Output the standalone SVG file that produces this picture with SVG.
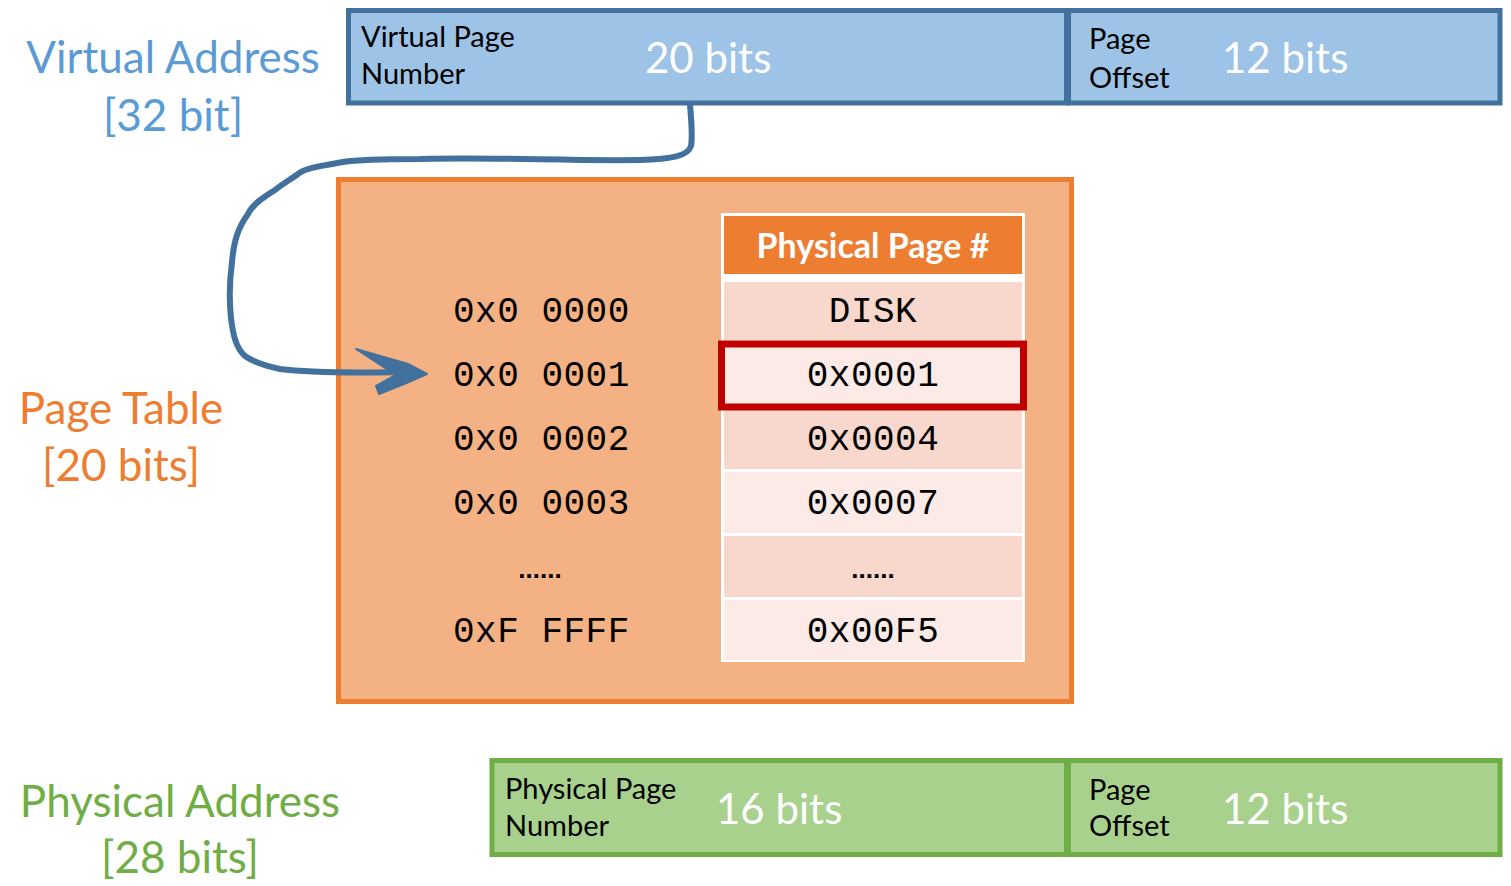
<svg xmlns="http://www.w3.org/2000/svg" width="1511" height="886" viewBox="0 0 1511 886">
<style>
.lbl{font-family:Lato,"Open Sans",sans-serif;font-size:29px;fill:#000}
.big{font-family:Lato,"Open Sans",sans-serif;font-size:42px;fill:#fff}
.side{font-family:Lato,"Open Sans",sans-serif;font-size:44px;text-anchor:middle}
.mono{font-family:"Liberation Mono","Courier New",monospace;font-size:36px;fill:#000;letter-spacing:0.5px}
.dots{font-family:"Liberation Sans",Arial,sans-serif;font-size:26px;font-weight:bold;fill:#000;text-anchor:middle}
.blue{fill:#9DC3E6;stroke:#41719C;stroke-width:5}
.green{fill:#A9D18E;stroke:#70AD47;stroke-width:5}
.dark{fill:#F8D7CC}
.light{fill:#FBEAE5}
</style>
<rect width="1511" height="886" fill="#fff"/>
<g id="virtual-address-label">
<text class="side" x="173" y="73" fill="#5B9BD5">Virtual Address</text>
<text class="side" x="173" y="131" fill="#5B9BD5">[32 bit]</text>
</g>
<g id="vpn">
<rect class="blue" x="348.5" y="10.5" width="718" height="92.5"/>
<text class="lbl" x="361" y="47">Virtual Page</text>
<text class="lbl" x="361" y="84">Number</text>
<text class="big" x="645" y="73">20 bits</text>
</g>
<g id="vpo">
<rect class="blue" x="1068.5" y="10.5" width="431.5" height="92.5"/>
<text class="lbl" x="1089" y="49">Page</text>
<text class="lbl" x="1089" y="88">Offset</text>
<text class="big" x="1222" y="73">12 bits</text>
</g>
<g id="page-table-label">
<text class="side" x="121" y="424" fill="#ED7D31">Page Table</text>
<text class="side" x="121" y="481" fill="#ED7D31">[20 bits]</text>
</g>
<g id="page-table">
<rect x="338.5" y="179.5" width="733" height="522" fill="#F4B183" stroke="#ED7D31" stroke-width="5"/>
<rect x="721" y="213" width="304" height="449" fill="#fff"/>
<rect x="724" y="216" width="298" height="58" fill="#ED7D31"/>
<rect class="dark" x="724" y="282" width="298" height="58"/>
<rect class="light" x="724" y="343" width="298" height="62"/>
<rect class="dark" x="724" y="408" width="298" height="61"/>
<rect class="light" x="724" y="472" width="298" height="61"/>
<rect class="dark" x="724" y="536" width="298" height="61"/>
<rect class="light" x="724" y="600" width="298" height="60"/>
<text x="873" y="258" text-anchor="middle" font-family="Lato,'Open Sans',sans-serif" font-weight="bold" font-size="34" fill="#fff">Physical Page #</text>
<text class="mono" x="453" y="322">0x0 0000</text>
<text class="mono" x="453" y="386">0x0 0001</text>
<text class="mono" x="453" y="450">0x0 0002</text>
<text class="mono" x="453" y="514">0x0 0003</text>
<text class="dots" x="540" y="578">......</text>
<text class="mono" x="453" y="642">0xF FFFF</text>
<text class="mono" x="873" y="322" text-anchor="middle">DISK</text>
<text class="mono" x="873" y="386" text-anchor="middle">0x0001</text>
<text class="mono" x="873" y="450" text-anchor="middle">0x0004</text>
<text class="mono" x="873" y="514" text-anchor="middle">0x0007</text>
<text class="dots" x="873" y="578">......</text>
<text class="mono" x="873" y="642" text-anchor="middle">0x00F5</text>
<rect x="721.5" y="344" width="302" height="63" fill="none" stroke="#C00000" stroke-width="7"/>
</g>
<g id="physical-address-label">
<text class="side" x="180" y="817" fill="#70AD47">Physical Address</text>
<text class="side" x="180" y="873" fill="#70AD47">[28 bits]</text>
</g>
<g id="ppn">
<rect class="green" x="492" y="760.5" width="574.5" height="94"/>
<text class="lbl" x="505" y="799">Physical Page</text>
<text class="lbl" x="505" y="836">Number</text>
<text class="big" x="716" y="824">16 bits</text>
</g>
<g id="ppo">
<rect class="green" x="1068.5" y="760.5" width="431.5" height="94"/>
<text class="lbl" x="1089" y="800">Page</text>
<text class="lbl" x="1089" y="836">Offset</text>
<text class="big" x="1222" y="824">12 bits</text>
</g>
<g id="connectors">
<path d="M690,104 C691,120 693,135 691,146 C688,156 672,159 640,160 C560,161 500,157 420,159 C380,159 355,160 343,162 C320,166 305,168 298,174 C290,180 285,182 275,190 C262,198 252,205 248,214 C238,228 234,240 232,262 C229,285 229,300 231,318 C233,335 236,348 245,356 C255,363 265,366 280,369 C310,373 350,373 405,372" fill="none" stroke="#41719C" stroke-width="6" stroke-linecap="round" stroke-linejoin="round"/>
<path d="M356,349 L408,364 L427,374 L404,384 L379,394 L376,386 L396,375 Z" fill="#41719C" stroke="#41719C" stroke-width="2" stroke-linejoin="round"/>
</g>
</svg>
